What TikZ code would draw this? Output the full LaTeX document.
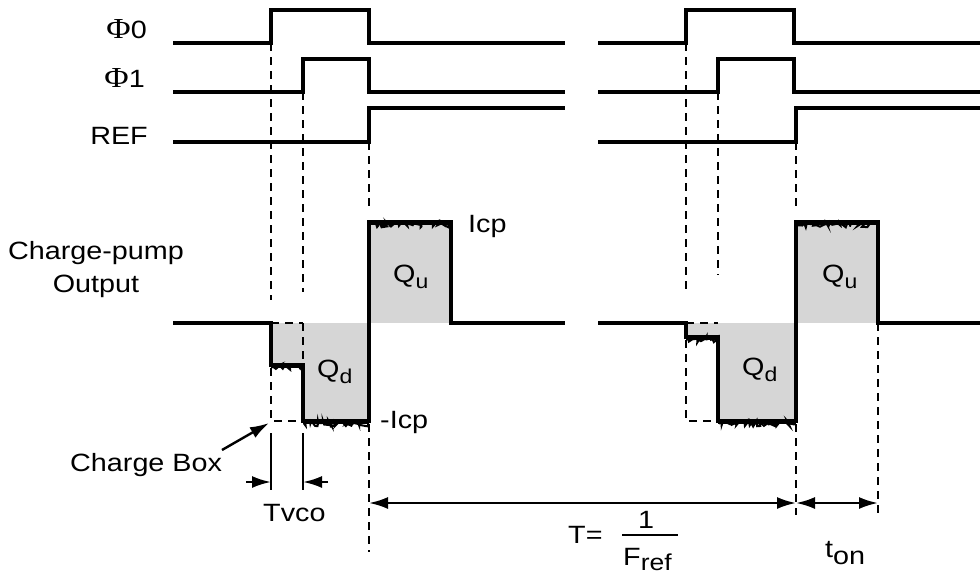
\documentclass[tikz,border=0pt]{standalone}
\usepackage{fontspec}
\setmainfont{Liberation Sans}[FakeStretch=1.15]
\newfontfamily\phifont{Liberation Serif}[FakeStretch=1.15]
\usetikzlibrary{arrows.meta,decorations.pathmorphing}
\newcommand\subtxt[1]{\raisebox{-6pt}{\fontsize{20}{20}\selectfont #1}}
\newcommand\bigphi{{\phifont\fontsize{29}{30}\selectfont Φ}}
\begin{document}
\begin{tikzpicture}[x=1pt,y=-1pt,
  sig/.style={line width=3.2pt, line join=miter},
  guide/.style={line width=2pt, dash pattern=on 8pt off 6pt},
  noise/.style={line width=2pt, decorate, decoration={random steps, segment length=1.6pt, amplitude=3pt}},
  level/.style={line width=4.5pt},
  thinline/.style={line width=1.6pt},
  arr/.style={line width=2.4pt, -{Latex[length=19pt,width=12pt]}},
  dblarr/.style={line width=2.4pt, {Latex[length=19pt,width=12pt]}-{Latex[length=19pt,width=12pt]}},
  lbl/.style={inner sep=0pt, font=\fontsize{25}{30}\selectfont},
  charge/.style={fill=black!16, draw=none}]
\pgfmathsetseed{7}
\useasboundingbox (0,0) rectangle (980,576);

% ---- shaded charge areas
\fill[charge] (271,323) rectangle (303,365);
\fill[charge] (303,323) rectangle (369,421);
\fill[charge] (369,222) rectangle (451,323);
\fill[charge] (686,323) rectangle (718,337);
\fill[charge] (718,323) rectangle (796,421);
\fill[charge] (796,222) rectangle (878,323);

% ---- digital signals
\draw[sig] (173,43) -- (271,43) -- (271,10) -- (369,10) -- (369,43) -- (565,43);
\draw[sig] (598,43) -- (686,43) -- (686,10) -- (794,10) -- (794,43) -- (980,43);
\draw[sig] (173,92) -- (303,92) -- (303,59) -- (369,59) -- (369,92) -- (565,92);
\draw[sig] (598,92) -- (718,92) -- (718,59) -- (794,59) -- (794,92) -- (980,92);
\draw[sig] (173,142) -- (369,142) -- (369,108) -- (565,108);
\draw[sig] (598,142) -- (796,142) -- (796,108) -- (980,108);

% ---- charge-pump output
\draw[sig] (173,323) -- (271,323) -- (271,365) -- (303,365) -- (303,421) -- (369,421)
  -- (369,222) -- (451,222) -- (451,323) -- (565,323);
\draw[sig] (598,323) -- (686,323) -- (686,337) -- (718,337) -- (718,421) -- (796,421)
  -- (796,222) -- (878,222) -- (878,323) -- (980,323);
% noisy current levels
\draw[level] (271,366) -- (303,366);
\draw[noise] (272,367.5) -- (302,367.5);
\draw[level] (303,422) -- (369,422);
\draw[noise] (304,423.5) -- (368,423.5);
\draw[level] (369,223) -- (451,223);
\draw[noise] (370,224.5) -- (450,224.5);
\draw[level] (686,338) -- (718,338);
\draw[noise] (687,339.5) -- (717,339.5);
\draw[level] (718,422) -- (796,422);
\draw[noise] (719,423.5) -- (795,423.5);
\draw[level] (796,223) -- (878,223);
\draw[noise] (797,224.5) -- (877,224.5);

% ---- dashed guide lines
\draw[guide] (271,43) -- (271,300);
\draw[guide] (303,92) -- (303,292);
\draw[guide] (369,142) -- (369,210);
\draw[guide] (271,323) -- (303,323);
\draw[guide] (303,323) -- (303,365);
\draw[guide] (271,368) -- (271,421) -- (303,421);
\draw[guide] (369,424) -- (369,552);
\draw[guide] (686,43) -- (686,290);
\draw[guide] (718,92) -- (718,275);
\draw[guide] (796,142) -- (796,208);
\draw[guide] (686,323) -- (718,323);
\draw[guide] (686,340) -- (686,421) -- (718,421);
\draw[guide] (796,424) -- (796,515);
\draw[guide] (878,323) -- (878,515);

% ---- Tvco markers
\coordinate (tv1t) at (271,433); \coordinate (tv1b) at (271,490);
\coordinate (tv2t) at (303,433); \coordinate (tv2b) at (303,490);
\draw[thinline] (tv1t) -- (tv1b);
\draw[thinline] (tv2t) -- (tv2b);
\coordinate (tvl) at (246,482); \coordinate (tvla) at (271,482);
\coordinate (tvr) at (328,482); \coordinate (tvra) at (303,482);
\draw[arr] (tvl) -- (tvla);
\draw[arr] (tvr) -- (tvra);

% ---- period arrows
\coordinate (p0) at (369,503); \coordinate (p1) at (796,503); \coordinate (p2) at (878,503);
\draw[dblarr] (p0) -- (p1);
\draw[dblarr] (p1) -- (p2);

% ---- charge box pointer
\coordinate (cbtip) at (269,423);
\coordinate (cbtail) at (222,450);
\draw[arr] (cbtail) -- (cbtip);

% ---- labels
\node[lbl, anchor=base east] (phi0) at (147,38) {\bigphi0};
\node[lbl, anchor=base east] (phi1) at (145,87) {\bigphi1};
\node[lbl, anchor=base east] (ref) at (148,144) {REF};
\node[lbl, anchor=base] (cp1) at (96,259) {Charge-pump};
\node[lbl, anchor=base] (cp2) at (96,292) {Output};
\node[lbl, anchor=base west] (icp) at (468,232) {Icp};
\node[lbl, anchor=base west] (micp) at (380,428) {-Icp};
\node[lbl, anchor=base west] (qu1) at (393,282) {Q\subtxt{u}};
\node[lbl, anchor=base west] (qd1) at (317,377) {Q\subtxt{d}};
\node[lbl, anchor=base west] (qu2) at (822,282) {Q\subtxt{u}};
\node[lbl, anchor=base west] (qd2) at (742,375) {Q\subtxt{d}};
\node[lbl, anchor=base west] (cbox) at (70,471) {Charge Box};
\node[lbl, anchor=base west] (tvco) at (263,521) {Tvco};
\node[lbl, anchor=base west] (teq) at (568,543) {T=};
\node[lbl, anchor=base] (one) at (646,528) {1};
\node[lbl, anchor=base west] (fref) at (623,565) {F\raisebox{-5pt}{\fontsize{23}{23}\selectfont ref}};
\draw[line width=2.4pt] (622,535) -- (678,535);
\node[lbl, anchor=base west] (ton) at (825,557) {t\raisebox{-7pt}{on}};
\end{tikzpicture}
\end{document}
